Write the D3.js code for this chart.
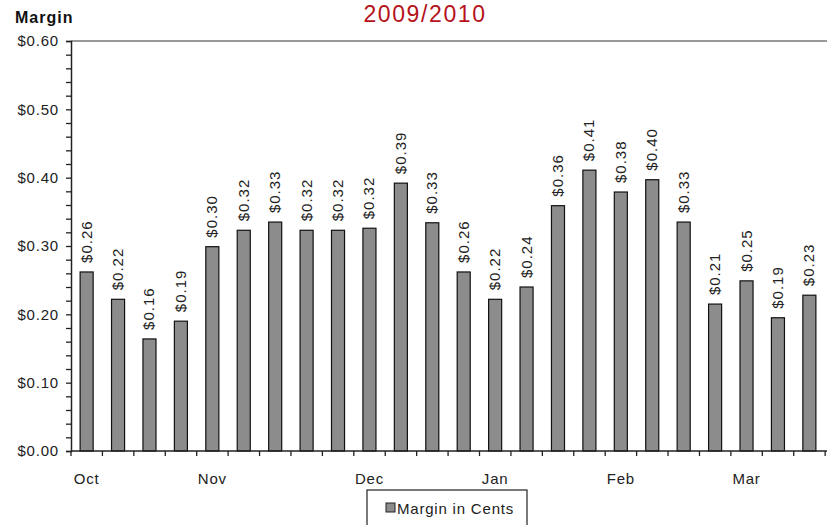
<!DOCTYPE html>
<html>
<head>
<style>
  body { margin: 0; background: #fff; }
  svg text { font-family: "Liberation Sans", Arial, sans-serif; }
</style>
</head>
<body>
<svg id="chart" width="827" height="525"></svg>
<script src="https://d3js.org/d3.v7.min.js"></script>
<script>
// weekly margin, Oct 2009 - Mar 2010
const weeks = d3.range(24);
const margins = [0.262, 0.222, 0.164, 0.190, 0.299, 0.323, 0.335, 0.323, 0.323, 0.326, 0.392, 0.334,
                 0.262, 0.222, 0.240, 0.359, 0.411, 0.379, 0.397, 0.335, 0.215, 0.249, 0.195, 0.228];
const labels = ["$0.26", "$0.22", "$0.16", "$0.19", "$0.30", "$0.32", "$0.33", "$0.32", "$0.32", "$0.32", "$0.39", "$0.33",
                "$0.26", "$0.22", "$0.24", "$0.36", "$0.41", "$0.38", "$0.40", "$0.33", "$0.21", "$0.25", "$0.19", "$0.23"];
const monthNames = ["Oct", "", "", "", "Nov", "", "", "", "", "Dec", "", "", "", "Jan", "", "", "", "Feb", "", "", "", "Mar", "", ""];
const yMajor = [0, 0.1, 0.2, 0.3, 0.4, 0.5, 0.6];

const svg = d3.select("#chart");
const plotL = 71, plotR = 825, plotT = 41, plotB = 451;

const x = d3.scaleBand().domain(weeks).range([plotL, plotR])
    .paddingInner(0.585).paddingOuter(0.29);
const step = x.step();
const y = d3.scaleLinear().domain([0, 0.6]).range([plotB, plotT]);

// title (upper line is cut off in the original)
svg.append("text")
    .attr("x", 425).attr("y", 22)
    .attr("text-anchor", "middle")
    .attr("font-size", 23)
    .attr("letter-spacing", 1.6)
    .attr("fill", "#b5121b")
    .text("2009/2010");

svg.append("text")
    .attr("x", 15).attr("y", 23)
    .attr("font-size", 16).attr("font-weight", "bold")
    .attr("letter-spacing", 1)
    .attr("fill", "#111")
    .text("Margin");

// top border
svg.append("line")
    .attr("x1", plotL).attr("x2", 827)
    .attr("y1", plotT).attr("y2", plotT)
    .attr("stroke", "#777").attr("stroke-width", 1.5);

// y axis
const yAxis = d3.axisLeft(y)
    .tickValues(d3.range(0, 0.601, 0.02))
    .tickSize(5)
    .tickFormat(d => "");
svg.append("g")
    .attr("transform", `translate(${plotL},0)`)
    .call(yAxis)
    .call(g => g.select(".domain").attr("stroke", "#222").attr("stroke-width", 1.5))
    .call(g => g.selectAll(".tick line").attr("stroke", "#222").attr("stroke-width", 1.3));

svg.append("g")
    .selectAll("text")
    .data(yMajor)
    .join("text")
    .attr("x", 59).attr("y", d => y(d))
    .attr("dy", "0.35em")
    .attr("text-anchor", "end")
    .attr("font-size", 15)
    .attr("letter-spacing", 0.8)
    .attr("fill", "#222")
    .text(d => d3.format("$.2f")(d));

// bars
svg.append("g")
    .selectAll("rect")
    .data(weeks)
    .join("rect")
    .attr("x", i => x(i))
    .attr("width", x.bandwidth())
    .attr("y", i => y(margins[i]))
    .attr("height", i => plotB - y(margins[i]))
    .attr("fill", "#8c8c8c")
    .attr("stroke", "#111")
    .attr("stroke-width", 1.2);

// value labels
svg.append("g")
    .selectAll("text")
    .data(weeks)
    .join("text")
    .attr("transform", i => `translate(${x(i) + x.bandwidth() / 2 + 5},${y(margins[i]) - 9}) rotate(-90)`)
    .attr("font-size", 15)
    .attr("letter-spacing", 1)
    .attr("fill", "#222")
    .text(i => labels[i]);

// x axis, ticks on category boundaries
svg.append("line")
    .attr("x1", plotL).attr("x2", 827)
    .attr("y1", plotB).attr("y2", plotB)
    .attr("stroke", "#222").attr("stroke-width", 1.5);
svg.append("g")
    .selectAll("line")
    .data(d3.range(25))
    .join("line")
    .attr("x1", i => plotL + i * step).attr("x2", i => plotL + i * step)
    .attr("y1", plotB).attr("y2", plotB + 5)
    .attr("stroke", "#222").attr("stroke-width", 1.3);

svg.append("g")
    .selectAll("text")
    .data(weeks)
    .join("text")
    .attr("x", i => x(i) + x.bandwidth() / 2)
    .attr("y", 484)
    .attr("text-anchor", "middle")
    .attr("font-size", 15)
    .attr("letter-spacing", 0.8)
    .attr("fill", "#222")
    .text(i => monthNames[i]);

// legend
const legend = svg.append("g");
legend.append("rect")
    .attr("x", 367).attr("y", 490)
    .attr("width", 160).attr("height", 45)
    .attr("fill", "#fff").attr("stroke", "#222").attr("stroke-width", 1.2);
legend.append("rect")
    .attr("x", 386).attr("y", 503)
    .attr("width", 9).attr("height", 9)
    .attr("fill", "#8c8c8c").attr("stroke", "#222");
legend.append("text")
    .attr("x", 397).attr("y", 514)
    .attr("font-size", 15)
    .attr("letter-spacing", 0.8)
    .attr("fill", "#222")
    .text("Margin in Cents");
</script>
</body>
</html>
